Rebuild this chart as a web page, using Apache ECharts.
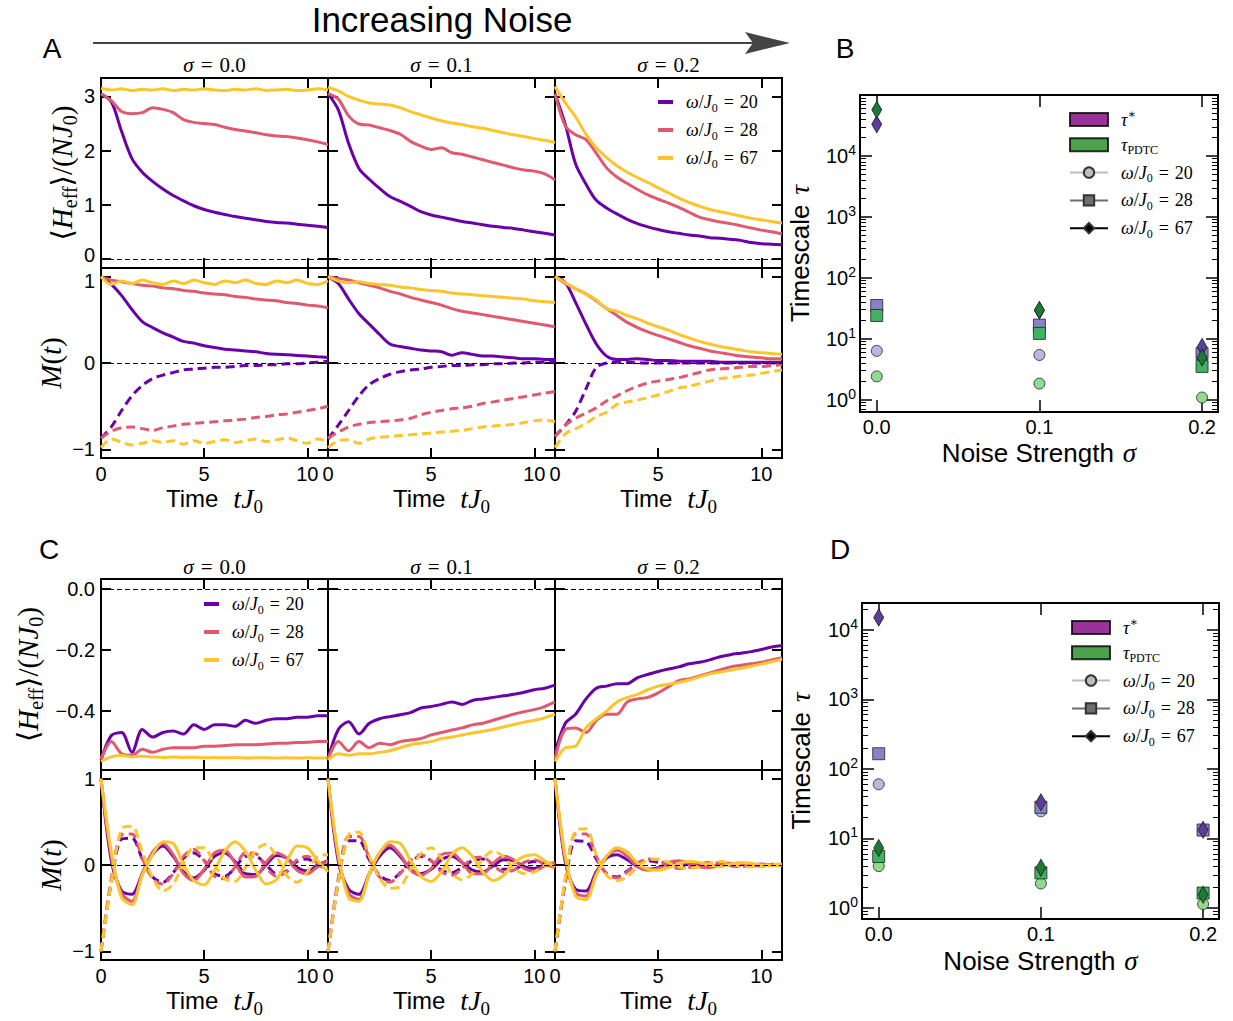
<!DOCTYPE html>
<html><head><meta charset="utf-8">
<script src="https://cdn.jsdelivr.net/npm/echarts@6/dist/echarts.min.js"></script>
<style>html,body{margin:0;padding:0;background:#fff}#c{width:1233px;height:1021px}</style>
</head><body><div id="c"></div>
<script>
// ---------- data ----------
const T = [0,0.5,1,1.5,2,2.5,3,3.5,4,4.5,5,5.5,6,6.5,7,7.5,8,8.5,9,9.5,10,10.5,11];
const X_TICKS = [0,5,10];
const SIGMA_TITLES = ['0.0','0.1','0.2'];
const OMEGAS = ['20','28','67'];
const H_A_TICKS = [0,1,2,3];
const M_TICKS = [-1,0,1];
const H_C_TICKS = [-0.4,-0.2,0];

// Panel A: <H_eff>/(N J0)
const AH0_20 = [3.05,2.9,2.35,1.85,1.6,1.43,1.29,1.17,1.07,0.98,0.91,0.86,0.82,0.78,0.75,0.72,0.69,0.67,0.66,0.64,0.62,0.6,0.58];
const AH0_28 = [3.05,2.92,2.72,2.68,2.7,2.79,2.76,2.7,2.57,2.52,2.5,2.48,2.43,2.39,2.36,2.33,2.29,2.27,2.26,2.23,2.2,2.16,2.11];
const AH0_67 = [3.15,3.12,3.14,3.11,3.13,3.12,3.14,3.11,3.13,3.12,3.14,3.12,3.11,3.13,3.12,3.14,3.11,3.12,3.13,3.11,3.12,3.14,3.12];
const AH1_20 = [3.05,2.75,2.13,1.67,1.47,1.3,1.15,1.06,0.97,0.87,0.81,0.77,0.73,0.69,0.66,0.63,0.6,0.58,0.56,0.53,0.5,0.47,0.44];
const AH1_28 = [3.05,2.95,2.64,2.49,2.47,2.42,2.37,2.3,2.17,2.08,2.02,2.05,1.96,1.93,1.88,1.83,1.78,1.73,1.68,1.64,1.62,1.57,1.46];
const AH1_67 = [3.17,3.1,3.0,2.93,2.88,2.86,2.84,2.79,2.72,2.66,2.6,2.55,2.51,2.48,2.44,2.41,2.37,2.33,2.29,2.26,2.22,2.19,2.15];
const AH2_20 = [3.05,2.48,1.75,1.38,1.08,0.94,0.83,0.73,0.65,0.59,0.54,0.5,0.47,0.44,0.42,0.39,0.38,0.36,0.34,0.3,0.28,0.27,0.26];
const AH2_28 = [3.05,2.45,2.29,2.2,1.95,1.68,1.51,1.39,1.28,1.18,1.1,1.03,0.95,0.86,0.77,0.72,0.68,0.65,0.61,0.57,0.53,0.5,0.46];
const AH2_67 = [3.18,2.88,2.62,2.3,2.05,1.87,1.72,1.6,1.5,1.41,1.31,1.22,1.12,1.04,0.97,0.91,0.87,0.83,0.79,0.75,0.72,0.69,0.66];

// Panel A: M(t) solid / dashed
const AMs0_20 = [1.0,0.91,0.78,0.62,0.48,0.41,0.35,0.3,0.25,0.23,0.2,0.18,0.16,0.15,0.14,0.13,0.11,0.1,0.095,0.088,0.08,0.072,0.065];
const AMs0_28 = [1.0,0.96,0.94,0.92,0.9,0.89,0.87,0.86,0.84,0.83,0.81,0.8,0.79,0.77,0.76,0.74,0.73,0.72,0.7,0.69,0.67,0.66,0.64];
const AMs0_67 = [1.0,0.91,0.95,0.92,0.96,0.93,0.91,0.95,0.92,0.96,0.93,0.91,0.95,0.93,0.96,0.92,0.91,0.95,0.93,0.96,0.92,0.91,0.95];
const AMd0_20 = [-0.87,-0.74,-0.55,-0.38,-0.26,-0.18,-0.14,-0.11,-0.08,-0.07,-0.06,-0.05,-0.05,-0.04,-0.03,-0.03,-0.02,-0.02,-0.01,-0.01,0.0,0.01,0.02];
const AMd0_28 = [-0.87,-0.79,-0.75,-0.74,-0.76,-0.78,-0.75,-0.73,-0.71,-0.7,-0.69,-0.68,-0.67,-0.66,-0.65,-0.63,-0.62,-0.6,-0.59,-0.57,-0.55,-0.53,-0.5];
const AMd0_67 = [-0.98,-0.88,-0.92,-0.95,-0.93,-0.9,-0.92,-0.9,-0.94,-0.9,-0.93,-0.91,-0.89,-0.92,-0.9,-0.88,-0.91,-0.89,-0.87,-0.9,-0.93,-0.88,-0.91];
const AMs1_20 = [1.0,0.92,0.74,0.57,0.45,0.33,0.22,0.19,0.17,0.15,0.14,0.13,0.09,0.12,0.1,0.08,0.08,0.07,0.06,0.05,0.05,0.04,0.04];
const AMs1_28 = [1.0,0.98,0.96,0.93,0.9,0.87,0.83,0.8,0.76,0.73,0.7,0.67,0.63,0.6,0.58,0.56,0.54,0.52,0.5,0.48,0.46,0.44,0.42];
const AMs1_67 = [1.0,0.95,0.93,0.94,0.92,0.91,0.9,0.88,0.87,0.85,0.84,0.83,0.81,0.8,0.79,0.78,0.77,0.76,0.75,0.74,0.72,0.71,0.7];
const AMd1_20 = [-0.88,-0.72,-0.55,-0.38,-0.25,-0.18,-0.13,-0.1,-0.08,-0.07,-0.05,-0.04,-0.03,-0.03,-0.02,-0.02,-0.01,-0.01,0.0,0.0,0.01,0.01,0.02];
const AMd1_28 = [-0.87,-0.8,-0.74,-0.71,-0.69,-0.68,-0.67,-0.66,-0.64,-0.6,-0.57,-0.55,-0.53,-0.52,-0.5,-0.47,-0.45,-0.43,-0.41,-0.39,-0.37,-0.35,-0.33];
const AMd1_67 = [-0.98,-0.9,-0.89,-0.93,-0.88,-0.86,-0.85,-0.84,-0.83,-0.82,-0.81,-0.8,-0.79,-0.78,-0.76,-0.74,-0.73,-0.72,-0.71,-0.69,-0.67,-0.66,-0.68];
const AMs2_20 = [1.0,0.93,0.7,0.45,0.22,0.08,0.04,0.04,0.05,0.04,0.03,0.03,0.02,0.02,0.02,0.02,0.01,0.01,0.01,0.01,0.01,0.01,0.01];
const AMs2_28 = [1.0,0.92,0.86,0.8,0.72,0.63,0.55,0.47,0.41,0.36,0.32,0.28,0.24,0.2,0.17,0.14,0.12,0.1,0.08,0.07,0.06,0.05,0.05];
const AMs2_67 = [1.0,0.93,0.86,0.8,0.73,0.63,0.6,0.55,0.51,0.46,0.42,0.38,0.33,0.29,0.25,0.22,0.19,0.17,0.15,0.13,0.12,0.11,0.1];
const AMd2_20 = [-0.85,-0.72,-0.56,-0.3,-0.05,0.0,0.01,0.01,0.0,0.0,0.0,0.0,0.0,0.0,0.0,0.0,0.0,0.0,0.0,0.0,0.0,0.0,0.0];
const AMd2_28 = [-0.85,-0.72,-0.64,-0.58,-0.52,-0.44,-0.38,-0.32,-0.27,-0.23,-0.21,-0.19,-0.17,-0.14,-0.11,-0.08,-0.07,-0.06,-0.05,-0.04,-0.04,-0.03,-0.02];
const AMd2_67 = [-0.98,-0.82,-0.76,-0.7,-0.62,-0.57,-0.48,-0.45,-0.43,-0.4,-0.37,-0.33,-0.29,-0.27,-0.24,-0.21,-0.18,-0.17,-0.15,-0.14,-0.12,-0.1,-0.08];

// Panel C: <H_eff>/(N J0)
const CH0_20 = [-0.56,-0.48,-0.47,-0.535,-0.46,-0.485,-0.47,-0.465,-0.475,-0.445,-0.46,-0.445,-0.445,-0.45,-0.43,-0.44,-0.43,-0.425,-0.425,-0.42,-0.42,-0.415,-0.415];
const CH0_28 = [-0.557,-0.5,-0.54,-0.545,-0.525,-0.535,-0.525,-0.52,-0.52,-0.52,-0.515,-0.515,-0.513,-0.51,-0.51,-0.51,-0.508,-0.505,-0.505,-0.503,-0.502,-0.5,-0.5];
const CH0_67 = [-0.565,-0.55,-0.545,-0.55,-0.548,-0.55,-0.552,-0.55,-0.552,-0.551,-0.553,-0.552,-0.553,-0.552,-0.554,-0.553,-0.553,-0.554,-0.553,-0.554,-0.553,-0.554,-0.553];
const CH1_20 = [-0.557,-0.46,-0.435,-0.475,-0.44,-0.425,-0.418,-0.412,-0.405,-0.39,-0.385,-0.378,-0.37,-0.378,-0.365,-0.36,-0.355,-0.35,-0.345,-0.338,-0.33,-0.325,-0.315];
const CH1_28 = [-0.557,-0.5,-0.53,-0.5,-0.52,-0.505,-0.51,-0.5,-0.495,-0.49,-0.478,-0.47,-0.462,-0.455,-0.445,-0.44,-0.43,-0.42,-0.41,-0.402,-0.395,-0.385,-0.37];
const CH1_67 = [-0.56,-0.54,-0.545,-0.54,-0.54,-0.535,-0.53,-0.52,-0.51,-0.505,-0.5,-0.49,-0.485,-0.478,-0.472,-0.466,-0.46,-0.452,-0.444,-0.436,-0.43,-0.422,-0.41];
const CH2_20 = [-0.536,-0.44,-0.41,-0.36,-0.325,-0.318,-0.31,-0.31,-0.29,-0.28,-0.27,-0.262,-0.255,-0.245,-0.24,-0.232,-0.222,-0.215,-0.21,-0.205,-0.198,-0.19,-0.185];
const CH2_28 = [-0.557,-0.46,-0.455,-0.47,-0.43,-0.41,-0.41,-0.37,-0.36,-0.355,-0.34,-0.32,-0.3,-0.295,-0.285,-0.275,-0.265,-0.255,-0.25,-0.245,-0.24,-0.232,-0.226];
const CH2_67 = [-0.565,-0.52,-0.515,-0.455,-0.425,-0.4,-0.37,-0.355,-0.345,-0.33,-0.318,-0.312,-0.306,-0.298,-0.288,-0.278,-0.272,-0.266,-0.26,-0.253,-0.246,-0.238,-0.23];

// Panel C: M(t) solid / dashed
const CMs0_20 = [1.0,0.05,-0.3,-0.34,-0.1,0.12,0.22,0.1,-0.08,-0.15,-0.06,0.1,0.14,0.04,-0.1,-0.11,0.0,0.11,0.08,-0.03,-0.07,0.0,0.05];
const CMs0_28 = [1.0,0.1,-0.33,-0.42,-0.1,0.15,0.25,0.12,-0.1,-0.18,-0.05,0.14,0.17,0.02,-0.14,-0.13,0.03,0.14,0.08,-0.06,-0.1,-0.02,0.05];
const CMs0_67 = [1.0,0.15,-0.38,-0.46,-0.12,0.12,0.27,0.25,0.0,-0.18,-0.23,-0.06,0.16,0.27,0.16,-0.06,-0.22,-0.17,0.04,0.22,0.2,0.05,-0.08];
const CMd0_20 = [-1.0,-0.2,0.3,0.31,0.07,-0.14,-0.2,-0.09,0.08,0.14,0.05,-0.1,-0.13,-0.03,0.1,0.1,0.0,-0.1,-0.07,0.04,0.07,0.0,-0.04];
const CMd0_28 = [-1.0,-0.15,0.35,0.36,0.08,-0.16,-0.22,-0.1,0.1,0.18,0.05,-0.13,-0.16,-0.02,0.14,0.13,-0.03,-0.13,-0.08,0.06,0.1,0.02,-0.05];
const CMd0_67 = [-1.0,-0.2,0.42,0.45,0.15,-0.15,-0.3,-0.22,0.02,0.2,0.2,0.0,-0.16,-0.19,-0.03,0.17,0.24,0.1,-0.12,-0.2,-0.08,0.1,0.12];
const CMs1_20 = [1.0,0.04,-0.28,-0.34,-0.1,0.1,0.2,0.1,-0.05,-0.1,-0.05,0.06,0.1,0.03,-0.06,-0.08,-0.01,0.06,0.05,-0.02,-0.04,0.0,0.02];
const CMs1_28 = [1.0,0.08,-0.33,-0.4,-0.1,0.14,0.23,0.12,-0.06,-0.12,-0.04,0.12,0.14,0.03,-0.1,-0.1,0.02,0.1,0.06,-0.04,-0.07,-0.01,0.03];
const CMs1_67 = [1.0,0.12,-0.38,-0.42,-0.1,0.14,0.27,0.25,0.05,-0.13,-0.19,-0.08,0.12,0.2,0.1,-0.08,-0.18,-0.12,0.02,0.1,0.12,0.05,-0.02];
const CMd1_20 = [-1.0,-0.2,0.28,0.28,0.06,-0.12,-0.18,-0.09,0.04,0.1,0.05,-0.06,-0.09,-0.03,0.05,0.07,0.01,-0.05,-0.05,0.01,0.04,0.01,-0.02];
const CMd1_28 = [-1.0,-0.15,0.33,0.33,0.08,-0.14,-0.2,-0.1,0.05,0.12,0.05,-0.08,-0.12,-0.04,0.08,0.09,0.0,-0.08,-0.06,0.03,0.06,0.01,-0.03];
const CMd1_67 = [-1.0,-0.2,0.35,0.38,0.1,-0.15,-0.27,-0.25,-0.05,0.13,0.2,0.08,-0.1,-0.17,-0.1,0.07,0.16,0.1,-0.04,-0.1,-0.08,0.0,0.05];
const CMs2_20 = [1.0,0.03,-0.28,-0.3,-0.08,0.08,0.12,0.06,-0.02,-0.05,-0.03,0.02,0.03,0.01,-0.01,-0.02,0.0,0.01,0.01,0.0,-0.01,0.0,0.0];
const CMs2_28 = [1.0,0.06,-0.32,-0.36,-0.1,0.1,0.17,0.1,-0.02,-0.06,-0.04,0.03,0.05,0.02,-0.02,-0.03,0.0,0.02,0.01,-0.01,-0.01,0.0,0.0];
const CMs2_67 = [1.0,0.1,-0.36,-0.4,-0.12,0.1,0.2,0.15,0.02,-0.05,-0.06,-0.03,0.02,0.04,0.03,0.0,-0.02,0.01,0.03,0.02,0.0,-0.01,0.0];
const CMd2_20 = [-1.0,-0.2,0.28,0.27,0.07,-0.1,-0.14,-0.07,0.02,0.05,0.03,-0.01,-0.03,-0.02,0.01,0.02,0.01,-0.01,-0.01,0.0,0.01,0.0,0.0];
const CMd2_28 = [-1.0,-0.18,0.36,0.36,0.1,-0.1,-0.15,-0.08,0.02,0.07,0.05,0.0,-0.04,-0.03,0.01,0.03,0.02,-0.01,-0.02,0.0,0.01,0.01,0.0];
const CMd2_67 = [-1.0,-0.15,0.4,0.42,0.12,-0.12,-0.18,-0.14,-0.02,0.06,0.07,0.03,-0.02,-0.04,-0.02,0.02,0.04,0.02,-0.01,-0.02,-0.01,0.01,0.01];

// Panels B and D: timescales vs noise strength
const SIGMA = [0, 0.1, 0.2];
const B_TAUSTAR_20 = [6.3, 5.4, 5.5];
const B_TAUSTAR_28 = [35, 16.7, 5.7];
const B_TAUSTAR_67 = [33000, 29, 7.3];
const B_PDTC_20 = [2.4, 1.83, 1.08];
const B_PDTC_28 = [24, 12.2, 3.5];
const B_PDTC_67 = [57000, 29.5, 4.9];
const D_TAUSTAR_20 = [60, 24.5, 13];
const D_TAUSTAR_28 = [165, 28, 13.2];
const D_TAUSTAR_67 = [15000, 33, 13.3];
const D_PDTC_20 = [4.0, 2.25, 1.14];
const D_PDTC_28 = [5.5, 3.2, 1.64];
const D_PDTC_67 = [7.3, 3.8, 1.55];
const LOG_MAJOR = [1, 10, 100, 1000, 10000];

// ---------- styling ----------
const SERIF = '"Liberation Serif", "DejaVu Serif", serif';
const SANS = '"Liberation Sans", Arial, Helvetica, sans-serif';
const COL = {'20':'#6a00a8','28':'#e0596e','67':'#fbc52c'};

function rich(size, sansSize, gap){
  const L = Math.round(size*1.25);
  return {
    r:{fontFamily:SANS,fontSize:sansSize||size,lineHeight:L,color:'#000'},
    n:{fontFamily:SERIF,fontSize:size,lineHeight:L,color:'#000'},
    i:{fontFamily:SERIF,fontStyle:'italic',fontSize:size,lineHeight:L,color:'#000'},
    s:{fontFamily:SERIF,fontSize:Math.round(size*0.68),lineHeight:Math.round(size*0.8),verticalAlign:'bottom',color:'#000'},
    p:{fontFamily:SERIF,fontSize:Math.round(size*0.68),lineHeight:Math.round(size*0.6),verticalAlign:'top',color:'#000'},
    m:{width:Math.round(size*0.3)},
    G:{width:gap||Math.round(size*0.6)},
    g:{width:8}
  };
}
const NAME_H = '{n|⟨}{i|H}{s|eff}{n|⟩/(}{i|NJ}{s|0}{n|)}';
const NAME_M = '{i|M}{n|(}{i|t}{n|)}';
const NAME_T = '{r|Time}{G|}{i|tJ}{s|0}';
const fmtTop = v => v === 0 ? '{u|0}' : String(v);
const fmtMid = v => v === 1 ? '{d|1}' : (v < 0 ? '−' : '') + Math.abs(v);
const fmtC = v => (v < -1e-9 ? '−' : '') + Math.abs(v).toFixed(1);
const SHIFT_RICH = {u:{fontSize:20,fontFamily:SANS,color:'#000',padding:[0,0,8,0]}, d:{fontSize:20,fontFamily:SANS,color:'#000',padding:[8,0,0,0]}};

const LEFTS = [101, 328, 555];
const PW = 227;
const ROWCFG = [
  {top:78,  h:190, min:-0.17, max:3.34, ticks:H_A_TICKS, fmt:fmtTop, name:NAME_H, gap:20, xlab:false},
  {top:268, h:190, min:-1.1,  max:1.1,  ticks:M_TICKS,   fmt:fmtMid, name:NAME_M, gap:32, xlab:true},
  {top:579, h:191, min:-0.593,max:0.033,ticks:H_C_TICKS, fmt:fmtC,   name:NAME_H, gap:55, xlab:false},
  {top:770, h:190, min:-1.1,  max:1.1,  ticks:M_TICKS,   fmt:v => (v < 0 ? '−' : '') + Math.abs(v), name:NAME_M, gap:32, xlab:true}
];

const grids = [], xAxes = [], yAxes = [], series = [];
function tick(len, w, vals){ return {show:true, inside:true, length:len, lineStyle:{color:'#000', width:w}, customValues:vals}; }
const noLine = {show:false, onZero:false};

for (let r = 0; r < 4; r++) for (let c = 0; c < 3; c++) {
  const g = r*3 + c, cfg = ROWCFG[r];
  grids.push({left:LEFTS[c], top:cfg.top, width:PW, height:cfg.h, show:true, borderColor:'#000', borderWidth:2,
              backgroundColor:'rgba(0,0,0,0)', containLabel:false, outerBoundsMode:'none'});
  xAxes.push({gridIndex:g, type:'value', position:'bottom', min:0, max:11, axisLine:noLine, splitLine:{show:false},
    axisTick:tick(10,2,X_TICKS),
    axisLabel:{show:cfg.xlab, customValues:X_TICKS, fontSize:20, fontFamily:SANS, color:'#000', margin:6},
    name: cfg.xlab ? NAME_T : '', nameLocation:'middle', nameGap:21, nameTextStyle:{rich:rich(28, 24, 15)}});
  xAxes.push({gridIndex:g, type:'value', position:'top', min:0, max:11, axisLine:noLine, splitLine:{show:false},
    axisTick:tick(10,2,X_TICKS), axisLabel:{show:false}});
  yAxes.push({gridIndex:g, type:'value', position:'left', min:cfg.min, max:cfg.max, axisLine:noLine, splitLine:{show:false},
    axisTick:tick(10,2,cfg.ticks),
    axisLabel:{show:c===0, customValues:cfg.ticks, formatter:cfg.fmt, rich:SHIFT_RICH, fontSize:20, fontFamily:SANS, color:'#000', margin:6},
    name: c===0 ? cfg.name : '', nameLocation:'middle', nameRotate:90, nameGap:cfg.gap, nameTextStyle:{rich:rich(29)}});
  yAxes.push({gridIndex:g, type:'value', position:'right', min:cfg.min, max:cfg.max, axisLine:noLine, splitLine:{show:false},
    axisTick:tick(10,2,cfg.ticks), axisLabel:{show:false}});
}

function line(g, vals, w, dashed, zero){
  const s = {type:'line', name:(dashed?'d':'w')+w, xAxisIndex:2*g, yAxisIndex:2*g,
    data:T.map((t,i)=>[t, vals[i]]), symbol:'none', showSymbol:false, smooth:0.3, clip:true, silent:true,
    color:COL[w], lineStyle:{color:COL[w], width:3, type:dashed?[9,5]:'solid'}, itemStyle:{color:COL[w]}};
  if (zero) s.markLine = {silent:true, symbol:['none','none'], label:{show:false}, animation:false,
    lineStyle:{color:'#000', width:1.2, type:[5,3]}, data:[{yAxis:0}]};
  return s;
}
const AH = [[AH0_20,AH0_28,AH0_67],[AH1_20,AH1_28,AH1_67],[AH2_20,AH2_28,AH2_67]];
const AMs = [[AMs0_20,AMs0_28,AMs0_67],[AMs1_20,AMs1_28,AMs1_67],[AMs2_20,AMs2_28,AMs2_67]];
const AMd = [[AMd0_20,AMd0_28,AMd0_67],[AMd1_20,AMd1_28,AMd1_67],[AMd2_20,AMd2_28,AMd2_67]];
const CH = [[CH0_20,CH0_28,CH0_67],[CH1_20,CH1_28,CH1_67],[CH2_20,CH2_28,CH2_67]];
const CMs = [[CMs0_20,CMs0_28,CMs0_67],[CMs1_20,CMs1_28,CMs1_67],[CMs2_20,CMs2_28,CMs2_67]];
const CMd = [[CMd0_20,CMd0_28,CMd0_67],[CMd1_20,CMd1_28,CMd1_67],[CMd2_20,CMd2_28,CMd2_67]];
for (let c = 0; c < 3; c++) {
  for (let k = 0; k < 3; k++) {
    series.push(line(c, AH[c][k], OMEGAS[k], false, k===0));
    series.push(line(6+c, CH[c][k], OMEGAS[k], false, k===0));
  }
  for (let k = 0; k < 3; k++) {
    series.push(line(3+c, AMs[c][k], OMEGAS[k], false, k===0));
    series.push(line(3+c, AMd[c][k], OMEGAS[k], true, false));
    series.push(line(9+c, CMs[c][k], OMEGAS[k], false, k===0));
    series.push(line(9+c, CMd[c][k], OMEGAS[k], true, false));
  }
}

// ---------- panels B and D ----------
function minorTicks(lo, hi){
  const out = [];
  for (let e = -1; e <= 5; e++) for (let m = 2; m <= 9; m++) { const v = m*Math.pow(10,e); if (v>=lo && v<=hi) out.push(v); }
  return out;
}
const logFmt = v => '{b|10}{e|' + Math.round(Math.log10(v)) + '}';
const LOG_RICH = {b:{fontFamily:SANS,fontSize:20,lineHeight:26,color:'#000'}, e:{fontFamily:SANS,fontSize:14,lineHeight:14,verticalAlign:'top',color:'#000'}};
function sidePanel(gi, left, top, w, h, ymin, ymax, yGap, xGap){
  grids.push({left, top, width:w, height:h, show:true, borderColor:'#000', borderWidth:2,
              backgroundColor:'rgba(0,0,0,0)', containLabel:false, outerBoundsMode:'none'});
  xAxes.push({gridIndex:gi, type:'value', position:'bottom', min:-0.0103, max:0.2098, axisLine:noLine, splitLine:{show:false},
    axisTick:tick(12,1.5,SIGMA),
    axisLabel:{customValues:SIGMA, formatter:v=>v.toFixed(1), fontSize:20, fontFamily:SANS, color:'#000', margin:5},
    name:'{r|Noise Strength}{G|}{i|σ}', nameLocation:'middle', nameGap:xGap, nameTextStyle:{rich:rich(27, 26, 9)}});
  xAxes.push({gridIndex:gi, type:'value', position:'top', min:-0.0103, max:0.2098, axisLine:noLine, splitLine:{show:false},
    axisTick:tick(12,1.5,SIGMA), axisLabel:{show:false}});
  const minors = minorTicks(ymin, ymax);
  const base = {gridIndex:gi, type:'log', logBase:10, min:ymin, max:ymax, axisLine:noLine, splitLine:{show:false}};
  yAxes.push(Object.assign({}, base, {position:'left', axisTick:tick(12,1.5,LOG_MAJOR),
    axisLabel:{customValues:LOG_MAJOR, formatter:logFmt, rich:LOG_RICH, margin:4},
    name:'{r|Timescale}{G|}{i|τ}', nameLocation:'middle', nameRotate:90, nameGap:yGap, nameTextStyle:{rich:rich(27, 26, 10)}}));
  yAxes.push(Object.assign({}, base, {position:'right', axisTick:tick(12,1.5,LOG_MAJOR), axisLabel:{show:false}}));
  yAxes.push(Object.assign({}, base, {position:'left', axisTick:tick(6,1,minors), axisLabel:{show:false}}));
  yAxes.push(Object.assign({}, base, {position:'right', axisTick:tick(6,1,minors), axisLabel:{show:false}}));
}
sidePanel(12, 860, 95, 358, 317, 0.625, 100000, 43, 24);
sidePanel(13, 862, 603, 357, 316, 0.695, 24200, 44, 25);

const SHAPES = {'20':{symbol:'circle', size:11}, '28':{symbol:'rect', size:12}, '67':{symbol:'diamond', size:[10,17]}};
const FILL = {star:{'20':'#b9b7e0','28':'#8782c6','67':'#5c3d9b'}, pdtc:{'20':'#91d98f','28':'#3fb35f','67':'#1b7a34'}};
function scat(gi, yIdx, vals, kind, w){
  return {type:'scatter', name:'m'+gi+kind+w, xAxisIndex:gi === 12 ? 24 : 26, yAxisIndex:yIdx,
    data:SIGMA.map((s,i)=>[s, vals[i]]), symbol:SHAPES[w].symbol, symbolSize:SHAPES[w].size, silent:true,
    itemStyle:{color:FILL[kind][w], borderColor:'#222', borderWidth:0.8, opacity:1}};
}
const BSET = {star:[B_TAUSTAR_20,B_TAUSTAR_28,B_TAUSTAR_67], pdtc:[B_PDTC_20,B_PDTC_28,B_PDTC_67]};
const DSET = {star:[D_TAUSTAR_20,D_TAUSTAR_28,D_TAUSTAR_67], pdtc:[D_PDTC_20,D_PDTC_28,D_PDTC_67]};
for (let k = 0; k < 3; k++) for (const kind of ['star','pdtc']) {
  series.push(scat(12, 24, BSET[kind][k], kind, OMEGAS[k]));
  series.push(scat(13, 28, DSET[kind][k], kind, OMEGAS[k]));
}
// legend-only entries for B/D
series.push({type:'scatter', name:'tauStar', xAxisIndex:24, yAxisIndex:24, data:[], itemStyle:{color:'#800080', borderColor:'#000', borderWidth:1}});
series.push({type:'scatter', name:'tauPDTC', xAxisIndex:24, yAxisIndex:24, data:[], itemStyle:{color:'#228b22', borderColor:'#000', borderWidth:1}});
const LEG_LINE = {'20':'#bdbdbd','28':'#6e6e6e','67':'#000000'};
const LEG_SYM = {'20':'circle','28':'rect','67':'diamond'};
for (const w of OMEGAS) series.push({type:'line', name:'L'+w, xAxisIndex:24, yAxisIndex:24, data:[], symbol:LEG_SYM[w],
  lineStyle:{color:LEG_LINE[w], width:1.5}, itemStyle:{color:LEG_LINE[w], borderColor:'#333', borderWidth:1}});

const OM = w => '{g|}{i|ω}{n|/}{i|J}{s|0}{m|}{n|=}{m|}{n|' + w + '}';
const LEG_TEXT = {
  w20:OM('20'), w28:OM('28'), w67:OM('67'), L20:OM('20'), L28:OM('28'), L67:OM('67'),
  tauStar:'{g|}{i|τ}{p|∗}', tauPDTC:'{g|}{i|τ}{s|PDTC}'
};
const legRich = rich(18);
legRich.g = {width:8};
legRich.m = {width:6};
function omegaLegend(left, top){
  return {orient:'vertical', left, top, padding:0, itemWidth:15, itemHeight:4, itemGap:7.5, selectedMode:false,
    data:[{name:'w20',icon:'rect'},{name:'w28',icon:'rect'},{name:'w67',icon:'rect'}],
    formatter:n=>LEG_TEXT[n], textStyle:{rich:legRich}};
}
function tauLegend(left, top){
  return {orient:'vertical', left, top, padding:0, itemWidth:38, itemHeight:13, itemGap:7.3, selectedMode:false,
    data:[{name:'tauStar',icon:'rect'},{name:'tauPDTC',icon:'rect'},'L20','L28','L67'],
    formatter:n=>LEG_TEXT[n], textStyle:{rich:legRich}};
}

// ---------- annotations ----------
const titleRich = rich(21);
titleRich.m = {width:7};
const graphics = [
  {type:'text', x:442, y:19, style:{text:'Increasing Noise', font:'35px "Liberation Sans", Arial, sans-serif', fill:'#000', align:'center', verticalAlign:'middle', textAlign:'center', textVerticalAlign:'middle'}},
  {type:'line', shape:{x1:93, y1:43, x2:760, y2:43}, style:{stroke:'#444', lineWidth:2}},
  {type:'polygon', shape:{points:[[790,43],[745,32],[753,43],[745,54]]}, style:{fill:'#444'}}
];
const LETTERS = [['A',52,48],['B',845,48],['C',49,549],['D',840,549]];
for (const [t,x,y] of LETTERS) graphics.push({type:'text', x, y, style:{text:t, font:'28px "Liberation Sans", Arial, sans-serif', fill:'#000', align:'center', verticalAlign:'middle', textAlign:'center', textVerticalAlign:'middle'}});
for (let c = 0; c < 3; c++) for (const y of [65, 567]) {
  graphics.push({type:'text', x:LEFTS[c] + PW/2, y, style:{text:'{i|σ}{m|}{n|=}{m|}{n|' + SIGMA_TITLES[c] + '}', rich:titleRich, align:'center', verticalAlign:'middle', textAlign:'center', textVerticalAlign:'middle'}});
}

const chart = echarts.init(document.getElementById('c'), null, {renderer:'svg', width:1233, height:1021});
chart.setOption({
  animation:false, backgroundColor:'#fff',
  textStyle:{fontFamily:SANS, color:'#000'},
  grid:grids, xAxis:xAxes, yAxis:yAxes, series,
  legend:[omegaLegend(658, 93), omegaLegend(204, 595), tauLegend(1069, 108), tauLegend(1071, 616)],
  graphic:{elements:graphics}
});
</script></body></html>
